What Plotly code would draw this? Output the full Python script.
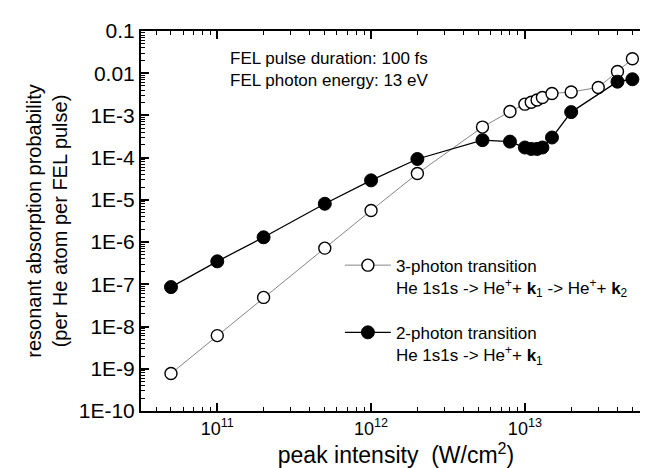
import plotly.graph_objects as go

# 3-photon transition (open circles)
x3 = [5e10, 1e11, 2e11, 5e11, 1e12, 2e12, 5.3e12, 8e12, 1e13, 1.1e13, 1.2e13, 1.3e13, 1.5e13, 2e13, 3e13, 4e13, 5e13]
y3 = [7.7e-10, 6.1e-9, 4.9e-8, 7.2e-7, 5.6e-6, 4.2e-5, 5.3e-4, 1.24e-3, 1.85e-3, 2.06e-3, 2.33e-3, 2.65e-3, 3.3e-3, 3.6e-3, 4.6e-3, 1.1e-2, 2.2e-2]

# 2-photon transition (filled circles)
x2 = [5e10, 1e11, 2e11, 5e11, 1e12, 2e12, 5.3e12, 8e12, 1e13, 1.1e13, 1.2e13, 1.3e13, 1.5e13, 2e13, 4e13, 5e13]
y2 = [8.6e-8, 3.5e-7, 1.3e-6, 8.1e-6, 2.9e-5, 9.3e-5, 2.6e-4, 2.4e-4, 1.74e-4, 1.61e-4, 1.61e-4, 1.74e-4, 3.0e-4, 1.2e-3, 6.3e-3, 7.2e-3]

xtickvals = [1e11, 1e12, 1e13]
xticktext = ["10<sup>11</sup>", "10<sup>12</sup>", "10<sup>13</sup>"]
ytickvals = [1e-10, 1e-9, 1e-8, 1e-7, 1e-6, 1e-5, 1e-4, 1e-3, 1e-2, 1e-1]
yticktext = ["1E-10", "1E-9", "1E-8", "1E-7", "1E-6", "1E-5", "1E-4", "1E-3", "0.01", "0.1"]

FONT = "Arial, Liberation Sans, Helvetica, sans-serif"

fig = go.Figure()
fig.add_trace(go.Scatter(
    x=x3, y=y3, mode="lines+markers",
    name="3-photon transition<br>He 1s1s -> He<sup>+</sup>+ <b>k</b><sub>1</sub> -> He<sup>+</sup>+ <b>k</b><sub>2</sub>",
    line=dict(color="#666666", width=0.8),
    marker=dict(symbol="circle", size=12, color="white", line=dict(color="black", width=1.4)),
    legendgroup="a",
))
fig.add_trace(go.Scatter(
    x=x2, y=y2, mode="lines+markers",
    name="2-photon transition<br>He 1s1s -> He<sup>+</sup>+ <b>k</b><sub>1</sub>",
    line=dict(color="black", width=1.3),
    marker=dict(symbol="circle", size=13, color="black", line=dict(color="black", width=1)),
    legendgroup="b",
))

fig.add_annotation(xref="paper", yref="paper", x=0.17, y=0.898, xanchor="left", yanchor="middle", align="left",
                   text="FEL pulse duration: 100 fs<br>FEL photon energy: 13 eV", showarrow=False,
                   font=dict(size=17, color="black", family=FONT))

fig.update_layout(
    width=648, height=468,
    margin=dict(l=133, r=3, t=23, b=65),
    paper_bgcolor="white", plot_bgcolor="white",
    font=dict(family=FONT, color="black", size=17),
    showlegend=True,
    legend=dict(x=0.39, y=0.43, xanchor="left", yanchor="top", bgcolor="rgba(0,0,0,0)",
                borderwidth=0, itemwidth=46, valign="top", tracegroupgap=20,
                font=dict(size=17, family=FONT)),
)
fig.update_xaxes(
    type="log", range=[10.504, 13.82],
    tickvals=xtickvals, ticktext=xticktext,
    ticks="inside", ticklen=8, tickwidth=1.5, tickcolor="black",
    minor=dict(ticks="inside", ticklen=4, tickwidth=1, tickcolor="black", dtick="D1", showgrid=False),
    showline=True, linewidth=2, linecolor="black", mirror="ticks",
    showgrid=False, zeroline=False,
    tickfont=dict(size=18, family=FONT),
    title=dict(text="peak intensity&nbsp; (W/cm<sup>2</sup>)", font=dict(size=23, family=FONT), standoff=8),
)
fig.update_yaxes(
    type="log", range=[-10, -1],
    tickvals=ytickvals, ticktext=yticktext,
    ticks="inside", ticklen=8, tickwidth=1.5, tickcolor="black",
    minor=dict(ticks="inside", ticklen=4, tickwidth=1, tickcolor="black", dtick="D1", showgrid=False),
    showline=True, linewidth=2, linecolor="black", mirror="ticks",
    showgrid=False, zeroline=False,
    tickfont=dict(size=21, family=FONT),
    title=dict(text="resonant absorption probability<br>(per He atom per FEL pulse)", font=dict(size=20, family=FONT), standoff=6),
)

fig.write_html("out.html")
